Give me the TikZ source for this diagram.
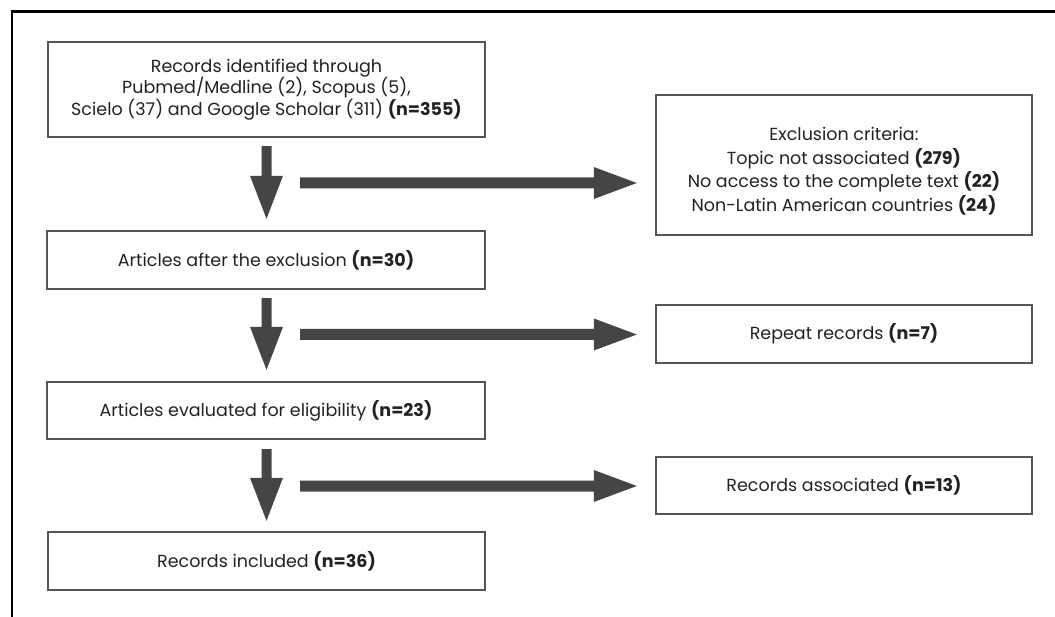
\documentclass[tikz,border=0pt]{standalone}
\usepackage{fontspec}
\setmainfont{Poppins}
\usetikzlibrary{calc}
\definecolor{boxgray}{HTML}{555555}
\definecolor{arrgray}{HTML}{454545}
\definecolor{txt}{HTML}{222222}
\tikzset{
  box/.style={draw=boxgray, line width=2.4pt, rectangle, inner sep=0pt, align=center, text=txt,
              font=\fontsize{17.5}{21.5}\selectfont},
  blockfill/.style={fill=arrgray, draw=none},
  frameline/.style={draw=black, line width=2.6pt}
}
\newcommand\darr[2]{%
  \fill[blockfill] ($(#1)+(-5,0)$) -- ($(#2)+(-5,-43)$) -- ($(#2)+(-16.5,-43)$) -- (#2)
    -- ($(#2)+(16.5,-43)$) -- ($(#2)+(5,-43)$) -- ($(#1)+(5,0)$) -- cycle;}
\newcommand\rarr[2]{%
  \fill[blockfill] ($(#1)+(0,-5.5)$) -- ($(#2)+(-43,-5.5)$) -- ($(#2)+(-43,-16)$) -- (#2)
    -- ($(#2)+(-43,16)$) -- ($(#2)+(-43,5.5)$) -- ($(#1)+(0,5.5)$) -- cycle;}
\begin{document}
\begin{tikzpicture}[x=1pt,y=-1pt]
\useasboundingbox (0,0) rectangle (1055,617);
\coordinate (fTL) at (12,11.5);
\coordinate (fTR) at (1056,11.5);
\coordinate (fBL) at (12,618);
\draw[frameline] (fTR) -- (fTL) -- (fBL);

\node[box, minimum width=437pt, minimum height=95pt] (b1) at (266.5,89.5)
  {Records identified through\\Pubmed/Medline (2), Scopus (5),\\Scielo (37) and Google Scholar (311) \textbf{(n=355)}};
\node[box, minimum width=376pt, minimum height=140pt] (ex) at (844,165) {};
\node[align=center, text=txt, font=\fontsize{17.5}{23.5}\selectfont, inner sep=0pt] (exl) at (844,171)
  {Exclusion criteria:\\Topic not associated \textbf{(279)}\\No access to the complete text \textbf{(22)}\\Non-Latin American countries \textbf{(24)}};
\node[box, minimum width=438pt, minimum height=58pt] (b2) at (266,260) {Articles after the exclusion \textbf{(n=30)}};
\node[box, minimum width=376pt, minimum height=58pt] (rep) at (844,334) {Repeat records \textbf{(n=7)}};
\node[box, minimum width=438pt, minimum height=57pt] (b3) at (266,410.5) {Articles evaluated for eligibility \textbf{(n=23)}};
\node[box, minimum width=376pt, minimum height=57pt] (asc) at (844,485.5) {Records associated \textbf{(n=13)}};
\node[box, minimum width=437pt, minimum height=58pt] (b4) at (266.5,561) {Records included \textbf{(n=36)}};

% down arrows
\coordinate (d1s) at ($(b1.south)+(0,8)$);
\coordinate (d1e) at ($(b2.north)+(0.5,-11)$);
\darr{d1s}{d1e}
\coordinate (d2s) at ($(b2.south)+(0.5,8)$);
\coordinate (d2e) at ($(b3.north)+(0.5,-11)$);
\darr{d2s}{d2e}
\coordinate (d3s) at ($(b3.south)+(0.5,9)$);
\coordinate (d3e) at ($(b4.north)+(0,-10)$);
\darr{d3s}{d3e}
% right arrows
\coordinate (r1s) at (300,183);
\coordinate (r1e) at ($(ex.west |- r1s)+(-18,0)$);
\rarr{r1s}{r1e}
\coordinate (r2s) at (300,334.5);
\coordinate (r2e) at ($(rep.west |- r2s)+(-18,0)$);
\rarr{r2s}{r2e}
\coordinate (r3s) at (300,486);
\coordinate (r3e) at ($(asc.west |- r3s)+(-18,0)$);
\rarr{r3s}{r3e}
\end{tikzpicture}
\end{document}
